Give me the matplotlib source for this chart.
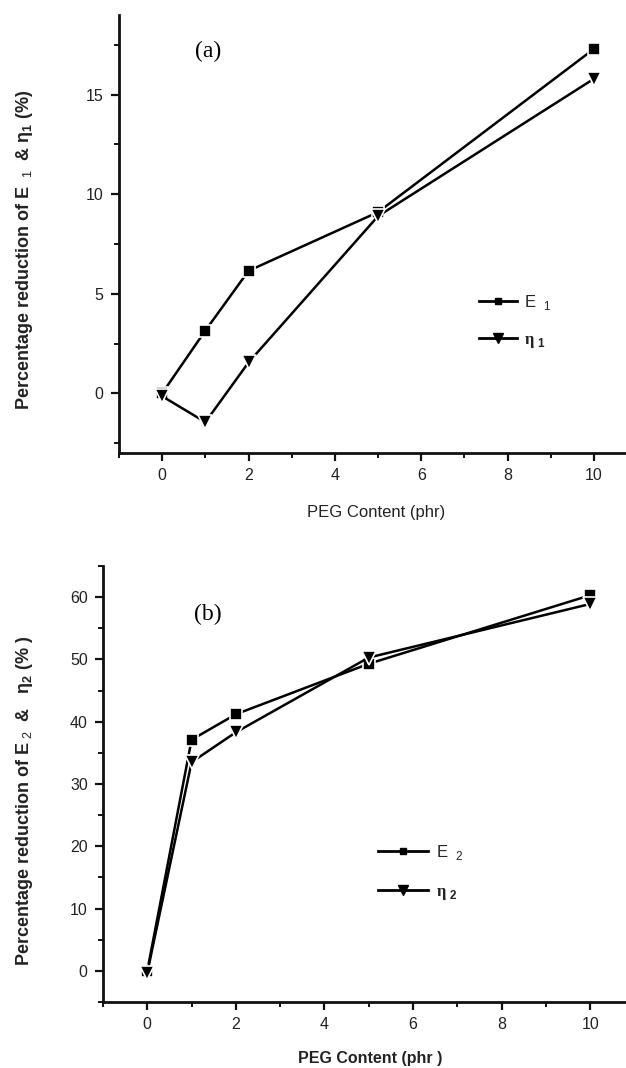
import matplotlib
matplotlib.use("Agg")
import matplotlib.pyplot as plt
from matplotlib.lines import Line2D
from matplotlib.ticker import MultipleLocator

# ---------------- data ----------------
peg = [0, 1, 2, 5, 10]
e1 = [0.0, 3.15, 6.15, 9.1, 17.3]
eta1 = [-0.15, -1.45, 1.55, 8.9, 15.8]
e2 = [0.0, 37.1, 41.2, 49.3, 60.3]
eta2 = [-0.3, 33.5, 38.3, 50.3, 58.9]

xticks = [0, 2, 4, 6, 8, 10]
yticks_a = [0, 5, 10, 15]
yticks_b = [0, 10, 20, 30, 40, 50, 60]

plt.rcParams['font.family'] = ['Liberation Sans', 'DejaVu Sans']
plt.rcParams['mathtext.fontset'] = 'custom'
plt.rcParams['mathtext.rm'] = 'Liberation Sans'
plt.rcParams['mathtext.bf'] = 'Liberation Sans:bold'

fig = plt.figure(figsize=(6.26, 10.68), dpi=100)

W, H = 626.0, 1068.0
TXT = '#222222'


def make_axes(left_px, top_px, bottom_px):
    return fig.add_axes([left_px / W, 1 - bottom_px / H,
                         1 - left_px / W, (bottom_px - top_px) / H])


def style(ax, ylim, xlim, ymajor, yminor):
    ax.set_xlim(*xlim)
    ax.set_ylim(*ylim)
    for s in ['top', 'right']:
        ax.spines[s].set_visible(False)
    for s in ['left', 'bottom']:
        ax.spines[s].set_linewidth(2.0)
        ax.spines[s].set_color('#111111')
    ax.set_xticks(xticks)
    ax.xaxis.set_minor_locator(MultipleLocator(1))
    ax.yaxis.set_major_locator(MultipleLocator(ymajor))
    ax.yaxis.set_minor_locator(MultipleLocator(yminor))
    ax.tick_params(which='major', direction='out', length=6, width=1.6,
                   labelsize=11.5, labelcolor=TXT, color='#111111', pad=5)
    ax.tick_params(which='minor', direction='out', length=3.5, width=1.4,
                   color='#111111')


def draw(ax, ya, yb):
    ax.plot(peg, ya, '-', color='black', lw=1.8, marker='s', ms=8.5,
            mfc='black', mec='white', mew=1.2, zorder=3, clip_on=False)
    ax.plot(peg, yb, '-', color='black', lw=1.8, marker='v', ms=10,
            mfc='black', mec='white', mew=1.2, zorder=3, clip_on=False)


def legend(ax, labels, anchor, hl, tp, ls):
    hs = [Line2D([], [], color='black', lw=2.0, marker='s', ms=4.5),
          Line2D([], [], color='black', lw=2.0, marker='v', ms=7)]
    leg = ax.legend(hs, labels, loc='upper left', bbox_to_anchor=anchor,
                    frameon=False, fontsize=12, handlelength=hl,
                    handletextpad=tp, labelspacing=ls, borderpad=0,
                    borderaxespad=0)
    for t in leg.get_texts():
        t.set_color(TXT)
    leg.get_texts()[1].set_fontweight('bold')
    leg.get_texts()[1].set_family('Liberation Serif')
    return leg


# ---------------- panel (a) ----------------
ax1 = make_axes(119, 15, 453)
draw(ax1, e1, eta1)
style(ax1, (-3, 19), (-1, 10.74), 5, 2.5)
ax1.set_yticks(yticks_a)
ax1.set_xlabel('PEG Content (phr)', fontsize=12, color=TXT)
ax1.xaxis.set_label_coords(0.507, -0.118)
ax1.set_ylabel('Percentage reduction of E $_{\\ 1}$  & η$_{\\mathbf{1}}$ (%)',
               fontsize=13, fontweight='bold', color=TXT)
ax1.yaxis.set_label_coords(-0.165, 0.463)
ax1.text(0.176, 0.916, '(a)', transform=ax1.transAxes, fontsize=17,
         family='Liberation Serif', ha='center', va='center')
legend(ax1, ['E $_{\\ 1}$', 'η$_{\\ \\mathbf{1}}$'], (0.71, 0.365), 2.3, 0.4, 1.2)

# ---------------- panel (b) ----------------
ax2 = make_axes(103, 566, 1002)
draw(ax2, e2, eta2)
style(ax2, (-5, 65), (-1, 10.81), 10, 5)
ax2.set_yticks(yticks_b)
ax2.set_xlabel('PEG Content (phr )', fontsize=11.5, fontweight='bold',
               color=TXT)
ax2.xaxis.set_label_coords(0.51, -0.112)
ax2.set_ylabel('Percentage reduction of E$_{\\ 2}$  &   η$_{\\mathbf{2}}$ (% )',
               fontsize=13, fontweight='bold', color=TXT)
ax2.yaxis.set_label_coords(-0.13, 0.461)
ax2.text(0.2, 0.888, '(b)', transform=ax2.transAxes, fontsize=17,
         family='Liberation Serif', ha='center', va='center')
legend(ax2, ['E $_{\\ 2}$', 'η $_{\\mathbf{2}}$'], (0.526, 0.365), 3.0, 0.5, 1.3)

fig.savefig('out.png', dpi=100)
